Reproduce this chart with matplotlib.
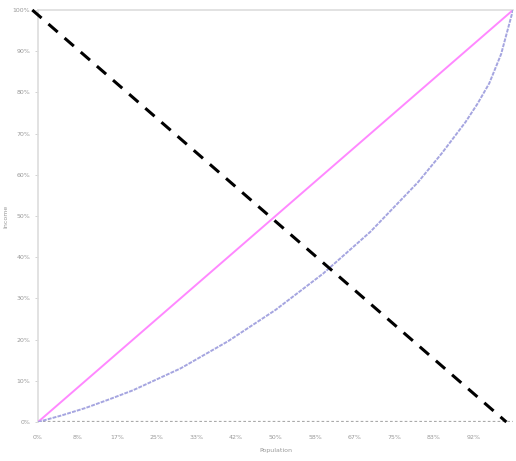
import numpy as np
import matplotlib
matplotlib.use('Agg')
import matplotlib.pyplot as plt

# Lorenz curve
pop_share = [0.0, 0.05, 0.1, 0.15, 0.2, 0.3, 0.4, 0.5, 0.6, 0.7, 0.8, 0.85, 0.9,
             0.925, 0.95, 0.975, 1.0]
income_share = [0.0, 0.016, 0.034, 0.055, 0.077, 0.130, 0.196, 0.272, 0.360, 0.462,
                0.582, 0.652, 0.728, 0.772, 0.822, 0.893, 1.0]

equality_x = [0.0, 1.0]
equality_y = [0.0, 1.0]

inequality_x = [0.0, 1.0]
inequality_y = [0.0, 0.0]

diag_x = [-0.012, 0.986]
diag_y = [1.0, 0.0]

x_ticks = [i / 12 for i in range(12)]
x_labels = ['0%', '8%', '17%', '25%', '33%', '42%', '50%', '58%', '67%', '75%', '83%', '92%']
y_ticks = [i / 10 for i in range(11)]
y_labels = ['%d%%' % (i * 10) for i in range(11)]

fig = plt.figure(figsize=(5.16, 4.61), dpi=100)
ax = fig.add_axes([38 / 516, 39 / 461, 475 / 516, 412 / 461])

txt = '#999999'
ax.plot(inequality_x, inequality_y, color='#aaaaaa', lw=1.6, ls=(0, (1.2, 1.0)), zorder=2)
ax.plot(equality_x, equality_y, color='#ff88ff', lw=1.4, zorder=3)
ax.plot(pop_share, income_share, color='#a5a5e0', lw=1.4, ls=(0, (2.0, 0.6)), zorder=3)
ax.plot(diag_x, diag_y, color='black', lw=2.2, ls=(0, (4, 3)), zorder=4, clip_on=False)

ax.set_xlim(0, 1)
ax.set_ylim(0, 1)
ax.set_xticks(x_ticks)
ax.set_xticklabels(x_labels)
ax.set_yticks(y_ticks)
ax.set_yticklabels(y_labels)
ax.tick_params(axis='both', labelsize=4.5, colors='#cccccc', labelcolor=txt, length=2, width=0.6)
ax.tick_params(axis='x', length=0, pad=9)
ax.set_xlabel('Population', fontsize=4.5, color=txt, labelpad=6)
ax.set_ylabel('Income', fontsize=4.5, color=txt, labelpad=3)

for s in ['left', 'top']:
    ax.spines[s].set_color('#dddddd')
    ax.spines[s].set_linewidth(1.2)
ax.spines['right'].set_visible(False)
ax.spines['bottom'].set_visible(False)

fig.savefig('out.png', dpi=100)
